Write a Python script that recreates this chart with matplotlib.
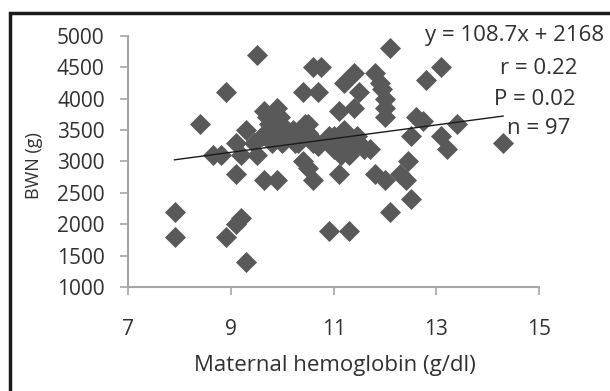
import numpy as np
from matplotlib import pyplot as plt
from matplotlib.patches import Rectangle

# maternal hemoglobin (g/dl) and birth weight of newborn (g)
hb = [7.9, 7.9, 8.4, 8.65, 8.8, 8.9, 8.9, 9.1, 9.1, 9.2,
      9.1, 9.2, 9.3, 9.3, 9.5, 9.45, 9.5, 9.65, 9.9, 9.65,
      9.75, 9.7, 9.85, 9.9, 9.95, 10.0, 9.8, 10.1, 10.2, 10.25,
      10.35, 10.4, 10.45, 10.5, 10.4, 10.5, 10.6, 10.6, 10.75, 10.7,
      10.6, 10.7, 10.9, 10.9, 11.1, 11.1, 11.2, 11.2, 11.25, 11.1,
      11.3, 11.35, 11.3, 11.4, 11.4, 11.45, 11.5, 11.5, 11.7, 11.8,
      11.9, 11.95, 12.0, 12.0, 12.0, 11.8, 12.0, 12.1, 12.1, 12.45,
      12.4, 12.5, 12.5, 12.6, 12.75, 12.8, 13.1, 13.1, 13.2, 13.4,
      14.3, 10.5, 11.0, 10.9, 11.3, 11.6, 11.15, 10.3, 10.1, 9.8,
      9.9, 9.6, 10.0, 10.6, 12.3, 11.0, 9.7]
bwn = [2200, 1800, 3600, 3100, 3100, 1800, 4100, 3300, 2800, 3100,
       2000, 2100, 3500, 1400, 4700, 3300, 3100, 2700, 2700, 3800,
       3600, 3450, 3400, 3850, 3700, 3550, 3500, 3400, 3500, 3300,
       3500, 4100, 3600, 3450, 3000, 2900, 2700, 4500, 4500, 4100,
       3300, 3250, 3400, 1900, 2800, 3800, 4250, 3500, 3300, 3150,
       3100, 3200, 1900, 4400, 3850, 3400, 4100, 3300, 3200, 4400,
       4250, 4150, 4000, 3850, 3700, 2800, 2700, 4800, 2200, 3000,
       2700, 2400, 3400, 3700, 3650, 4300, 4500, 3400, 3200, 3600,
       3300, 3600, 3400, 3350, 3250, 3200, 3100, 3300, 3500, 3300,
       3600, 3400, 3300, 3350, 2800, 3200, 3700]

slope = 108.7
intercept = 2168
stats = ["r = 0.22", "P = 0.02", "n = 97"]

plt.rcParams['font.family'] = ['Open Sans', 'DejaVu Sans']
W, H = 610, 391
fig = plt.figure(figsize=(W / 100, H / 100), dpi=100)
txt = '#303030'

# outer frame (only left and top edges visible in the crop)
fig.patches.append(Rectangle((9.5 / W, -0.2), 1.2, 1.2 - 12.5 / H,
                             transform=fig.transFigure, fill=False,
                             edgecolor='#1a1a1a', linewidth=2.5))

ax = fig.add_axes([128.3 / W, 1 - 287.3 / H, (539 - 128.3) / W, (287.3 - 35.7) / H])
ax.scatter(hb, bwn, marker='D', s=115, color='#595959', linewidths=0, zorder=2)

xl = np.array([min(hb), max(hb)])
ax.plot(xl, slope * xl + intercept, color='#1a1a1a', linewidth=1.0, zorder=3)

ax.set_xlim(7, 15)
ax.set_ylim(1000, 5000)
ax.set_xticks([7, 9, 11, 13, 15])
ax.set_yticks(range(1000, 5001, 500))
for s in ['top', 'right']:
    ax.spines[s].set_visible(False)
for s in ['left', 'bottom']:
    ax.spines[s].set_color('#a6a6a6')
    ax.spines[s].set_linewidth(1.5)
ax.tick_params(axis='y', length=6, width=1.2, color='#a6a6a6', pad=11,
               labelsize=15, labelcolor=txt)
ax.tick_params(axis='x', length=6, width=1.2, color='#a6a6a6', pad=17,
               labelsize=15, labelcolor=txt)

fig.text(34 / W, 1 - 166 / H, "BWN (g)", rotation=90, ha='center', va='center',
         fontsize=13, color=txt)
fig.text(335 / W, 1 - 365 / H, "Maternal hemoglobin (g/dl)", ha='center', va='center',
         fontsize=16, color=txt)

fig.text(604 / W, 1 - 35 / H, f"y = {slope}x + {intercept}", ha='right', va='center',
         fontsize=16, color=txt)
for label, x, y in zip(stats, [500, 494, 507], [68, 99.5, 128.5]):
    fig.text(x / W, 1 - y / H, label, ha='left', va='center', fontsize=16, color=txt)

fig.savefig("out.png", dpi=100)
